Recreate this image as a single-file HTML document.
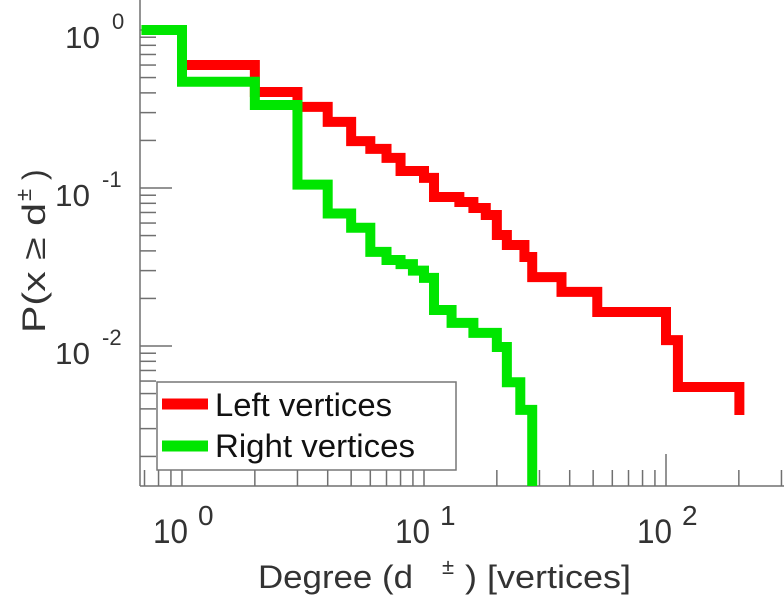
<!DOCTYPE html>
<html><head><meta charset="utf-8"><style>
html,body{margin:0;padding:0;background:#fff;}
svg{display:block;font-family:"Liberation Sans",sans-serif;}
</style></head><body>
<svg id="chart" width="784" height="600" viewBox="0 0 784 600" xmlns="http://www.w3.org/2000/svg"></svg>
<script>
// Data: step edges (degree) and CCDF values per interval
const redEdges = [0.68,1,2,3,4,5,6,7,8,10,11,14,16,18,20,22,26,28,37,52,100,112,201];
const redValues = [1,0.60,0.405,0.326,0.262,0.198,0.177,0.155,0.128,0.116,0.0877,0.0815,0.0747,0.0675,0.0504,0.0436,0.0366,0.0273,0.022,0.0164,0.0109,0.0055];
const redEnd = 0.00366;
const greenEdges = [0.68,1,2,3,4,5,6,7,8,9,10,11,13,16,20,22,25,28];
const greenValues = [1,0.47,0.335,0.105,0.069,0.056,0.0394,0.035,0.033,0.030,0.027,0.0169,0.014,0.0121,0.00986,0.0059,0.00394];
const greenEnd = 0.001;
const xTickExps = [0,1,2];
const yTickExps = [0,-1,-2];

const NS = "http://www.w3.org/2000/svg";
const svg = document.getElementById('chart');
const X0 = 182, XD = 242, Y0 = 30, YD = 158;
const axL = 140, axB = 486, axT = 0, axR = 784;
const xS = d => X0 + XD * Math.log10(d);
const yS = p => Math.min(Y0 - YD * Math.log10(p), axB + 20);

function mk(tag, attrs, parent) {
  const e = document.createElementNS(NS, tag);
  for (const k in attrs) e.setAttribute(k, attrs[k]);
  (parent || svg).appendChild(e);
  return e;
}

const defs = mk('defs', {});
const cp = mk('clipPath', {id: 'plotclip'}, defs);
mk('rect', {x: axL, y: axT, width: axR - axL, height: axB - axT}, cp);

const axes = mk('g', {stroke: '#707070', 'stroke-width': 1.5, fill: 'none'});


mk('line', {x1: axL, y1: axT, x2: axL, y2: axB}, axes);
mk('line', {x1: axL, y1: axB, x2: axR, y2: axB}, axes);

for (let e = -1; e <= 2; e++) {
  for (let m = 1; m <= 9; m++) {
    const v = m * Math.pow(10, e);
    const x = xS(v);
    if (x < axL + 1 || x > axR) continue;
    const len = m === 1 ? 32 : 16;
    const t = mk('line', {x1: x, y1: axB, x2: x, y2: axB - len}, axes);
    
    
  }
}
for (let e = -3; e <= 0; e++) {
  for (let m = 1; m <= 9; m++) {
    const v = m * Math.pow(10, e);
    const y = Y0 - YD * Math.log10(v);
    if (y > axB - 1 || y < axT) continue;
    const len = m === 1 ? 32 : 16;
    const t = mk('line', {x1: axL, y1: y, x2: axL + len, y2: y}, axes);
    
    
  }
}

function stepPath(edges, vals, endVal) {
  let d = `M${xS(edges[0])},${yS(vals[0])}`;
  for (let i = 0; i < vals.length; i++) {
    d += ` L${xS(edges[i + 1])},${yS(vals[i])}`;
    const next = i + 1 < vals.length ? vals[i + 1] : endVal;
    d += ` L${xS(edges[i + 1])},${yS(next)}`;
  }
  return d;
}
const series = mk('g', {'clip-path': 'url(#plotclip)', fill: 'none', 'stroke-width': 10, 'stroke-linejoin': 'miter', 'stroke-linecap': 'butt'});


const rp = mk('path', {d: stepPath(redEdges, redValues, redEnd), stroke: '#ff0000'}, series);


const gp = mk('path', {d: stepPath(greenEdges, greenValues, greenEnd), stroke: '#00e600'}, series);



const lab = mk('g', {fill: '#333'});


xTickExps.forEach(e => {
  const x = xS(Math.pow(10, e));
  const t = mk('text', {x: x - 29, y: 543, 'font-size': 34, textLength: 35, lengthAdjust: 'spacingAndGlyphs'}, lab);
  
  
  t.textContent = '10';
  const s = mk('text', {x: x + 16, y: 525, 'font-size': 28}, lab);
  
  
  s.textContent = String(e);
});
yTickExps.forEach(e => {
  const y = Y0 - YD * Math.log10(Math.pow(10, e));
  const t = mk('text', {x: e === 0 ? 65 : 55, y: y + 18, 'font-size': 31, textLength: 35, lengthAdjust: 'spacingAndGlyphs'}, lab);
  
  
  t.textContent = '10';
  const s = mk('text', {x: e === 0 ? 112 : 102, y: y - 1, 'font-size': 22}, lab);
  
  
  s.textContent = String(e);
});

const xt = mk('g', {fill: '#333'});


const xt1 = mk('text', {x: 258, y: 588, 'font-size': 32, textLength: 155, lengthAdjust: 'spacingAndGlyphs'}, xt);
xt1.textContent = 'Degree (d';
const xt2 = mk('text', {x: 442, y: 574, 'font-size': 22}, xt);
xt2.textContent = '±';
const xt3 = mk('text', {x: 465, y: 588, 'font-size': 32, textLength: 166, lengthAdjust: 'spacingAndGlyphs'}, xt);
xt3.textContent = ') [vertices]';

const yt = mk('g', {fill: '#333', transform: 'translate(45,333) rotate(-90)'});


const yt1 = mk('text', {x: 0, y: 0, 'font-size': 32, textLength: 130, lengthAdjust: 'spacingAndGlyphs'}, yt);
yt1.textContent = 'P(x ≥ d';
const yt2 = mk('text', {x: 132, y: -14, 'font-size': 22}, yt);
yt2.textContent = '±';
const yt3 = mk('text', {x: 153, y: 0, 'font-size': 32}, yt);
yt3.textContent = ')';

const lg = mk('g', {});


mk('rect', {x: 157, y: 382, width: 299, height: 88, fill: '#fff', stroke: '#777', 'stroke-width': 1.5}, lg);
const l1 = mk('g', {}, lg);


mk('line', {x1: 162, y1: 404, x2: 208, y2: 404, stroke: '#ff0000', 'stroke-width': 11}, l1);
const t1 = mk('text', {x: 215, y: 416, 'font-size': 32, fill: '#111', textLength: 177, lengthAdjust: 'spacingAndGlyphs'}, l1);
t1.textContent = 'Left vertices';
const l2 = mk('g', {}, lg);


mk('line', {x1: 162, y1: 446, x2: 208, y2: 446, stroke: '#00e600', 'stroke-width': 11}, l2);
const t2 = mk('text', {x: 215, y: 457, 'font-size': 32, fill: '#111', textLength: 200, lengthAdjust: 'spacingAndGlyphs'}, l2);
t2.textContent = 'Right vertices';
</script>
</body></html>
